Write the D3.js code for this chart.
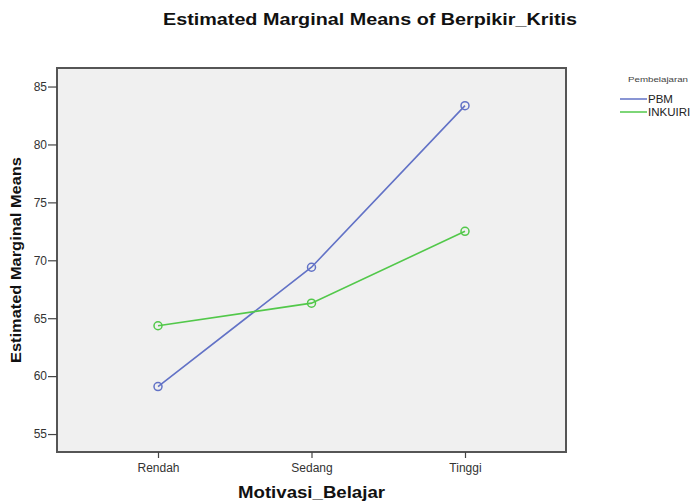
<!DOCTYPE html>
<html lang="en">
<head>
  <meta charset="UTF-8">
  <script src="https://d3js.org/d3.v7.min.js"></script>
  <title>Estimated Marginal Means</title>
  <style>
    body { margin: 0; background: #fff; }
    text { font-family: Arial, "Liberation Sans", sans-serif; }
  </style>
</head>
<body>
  <svg id="chart" width="693" height="503"></svg>
  <script>
    // kategori motivasi
    const categories = ["Rendah", "Sedang", "Tinggi"];
    const seriesNames = ["PBM", "INKUIRI"];
    const pbmValues = [59.1, 69.4, 83.35];
    const inkuiriValues = [64.35, 66.3, 72.5];
    const yTicks = [55, 60, 65, 70, 75, 80, 85];

    const svg = d3.select("#chart");
    const plotL = 57, plotR = 566, plotT = 68, plotB = 452;

    const xScale = d3.scalePoint().domain(categories).range([plotL, plotR]).padding(0.658);
    const yScale = d3.scaleLinear().domain([53.45, 86.6]).range([plotB, plotT]);

    // latar area plot
    svg.append("rect")
      .attr("x", plotL).attr("y", plotT)
      .attr("width", plotR - plotL).attr("height", plotB - plotT)
      .attr("fill", "#f0f0f0")
      .attr("stroke", "#555").attr("stroke-width", 2);

    const yAxis = d3.axisLeft(yScale).tickValues(yTicks).tickSize(9).tickPadding(1);
    const yG = svg.append("g").attr("transform", `translate(${plotL},0)`).call(yAxis);
    const xAxis = d3.axisBottom(xScale).tickSize(6).tickPadding(5);
    const xG = svg.append("g").attr("transform", `translate(0,${plotB})`).call(xAxis);

    [yG, xG].forEach(g => {
      g.select(".domain").remove();
      g.selectAll(".tick line").attr("stroke", "#444").attr("stroke-width", 1.2);
      g.selectAll(".tick text").attr("fill", "#333").style("font-size", "12px")
        .style("font-family", "Arial, 'Liberation Sans', sans-serif");
    });

    const series = [
      { name: seriesNames[0], values: pbmValues, color: "#6272c6" },
      { name: seriesNames[1], values: inkuiriValues, color: "#52c84a" }
    ];

    const line = d3.line().x((d, i) => xScale(categories[i])).y(d => yScale(d));

    series.forEach(s => {
      svg.append("path")
        .attr("d", line(s.values))
        .attr("fill", "none")
        .attr("stroke", s.color)
        .attr("stroke-width", 1.6);

      svg.selectAll(null)
        .data(s.values)
        .enter()
        .append("circle")
        .attr("cx", (d, i) => xScale(categories[i]))
        .attr("cy", d => yScale(d))
        .attr("r", 4)
        .attr("fill", "none")
        .attr("stroke", s.color)
        .attr("stroke-width", 1.5);
    });

    // judul
    svg.append("text")
      .attr("x", 370).attr("y", 25)
      .attr("text-anchor", "middle")
      .attr("textLength", 414).attr("lengthAdjust", "spacingAndGlyphs")
      .style("font-size", "17px").style("font-weight", "bold")
      .attr("fill", "#111")
      .text("Estimated Marginal Means of Berpikir_Kritis");

    svg.append("text")
      .attr("x", 311.5).attr("y", 498)
      .attr("text-anchor", "middle")
      .attr("textLength", 147).attr("lengthAdjust", "spacingAndGlyphs")
      .style("font-size", "16px").style("font-weight", "bold")
      .attr("fill", "#111")
      .text("Motivasi_Belajar");

    svg.append("text")
      .attr("transform", `translate(21,${(plotT + plotB) / 2}) rotate(-90)`)
      .attr("text-anchor", "middle")
      .attr("textLength", 206).attr("lengthAdjust", "spacingAndGlyphs")
      .style("font-size", "15px").style("font-weight", "bold")
      .attr("fill", "#111")
      .text("Estimated Marginal Means");

    // legenda
    const legend = svg.append("g");
    legend.append("text")
      .attr("x", 628).attr("y", 82)
      .attr("textLength", 60).attr("lengthAdjust", "spacingAndGlyphs")
      .style("font-size", "7.5px")
      .attr("fill", "#444")
      .text("Pembelajaran");

    series.forEach((s, i) => {
      const y = 99 + i * 13;
      legend.append("line")
        .attr("x1", 620).attr("x2", 647)
        .attr("y1", y).attr("y2", y)
        .attr("stroke", s.color).attr("stroke-width", 1.5);
      legend.append("text")
        .attr("x", 648).attr("y", y + 4)
        .style("font-size", "11.5px")
        .attr("fill", "#222")
        .text(s.name);
    });
  </script>
</body>
</html>
